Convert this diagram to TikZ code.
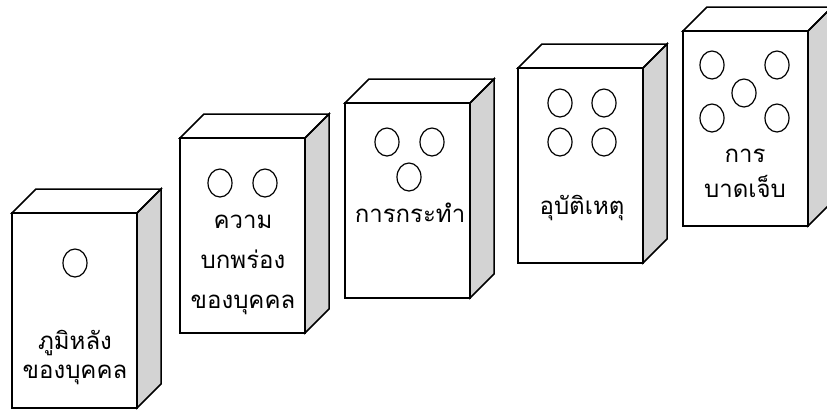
\documentclass[tikz,border=0pt]{standalone}
\usepackage{fontspec}
\newfontfamily\thaifont[Script=Thai]{Loma}
\definecolor{sidegray}{HTML}{D3D3D3}

\tikzset{
  boxline/.style={line width=1.5pt, line join=miter},
  spot/.style={line width=1.2pt},
  boxlabel/.style={font=\thaifont\fontsize{24}{36}\selectfont, align=center, inner sep=0pt}
}

\begin{document}
\begin{tikzpicture}[x=1pt, y=-1pt]

\useasboundingbox (0,0) rectangle (827,410);

% --- Boxes: front face, top face and shaded right side ---
\def\bw{125}  % width of the front face
\def\bh{195}  % height of the front face
\def\bd{24}   % depth of the box
\foreach \name/\bx/\by in {bg/12/213, def/180/138, act/345/103, acc/518/68, inj/683/31}{
  \coordinate (\name) at (\bx,\by);
  \fill[white] (\bx,\by) rectangle ++(\bw,\bh);
  \filldraw[boxline, fill=sidegray] (\bx+\bw,\by) -- ++(\bd,-\bd) -- ++(0,\bh) -- ++(-\bd,\bd) -- cycle;
  \draw[boxline] (\bx,\by) -- ++(\bd,-\bd) -- ++(\bw,0) -- ++(-\bd,\bd) -- cycle;
  \draw[boxline] (\bx,\by) rectangle ++(\bw,\bh);
}

% --- Spots on each box ---
\foreach \cx/\cy in {75/263,
                     220/183, 265/183,
                     387/142, 432/142, 409/177,
                     560/103, 604/103, 560/142, 604/142,
                     712/65, 777/65, 744/93, 712/118, 777/118}{
  \draw[spot] (\cx,\cy) ellipse [x radius=12, y radius=14];
}

% --- Labels ---
\node[boxlabel, font=\thaifont\fontsize{24}{29}\selectfont] (bgtext) at (75,357) {ภูมิหลัง\\ของบุคคล};
\node[boxlabel, font=\thaifont\fontsize{24}{40}\selectfont] (deftext) at (243,265) {ความ\\บกพร่อง\\ของบุคคล};
\node[boxlabel] (acttext) at (410,213) {การกระทำ};
\node[boxlabel] (acctext) at (582,208) {อุบัติเหตุ};
\node[boxlabel, font=\thaifont\fontsize{24}{35}\selectfont] (injtext) at (745,173) {การ\\บาดเจ็บ};

\end{tikzpicture}
\end{document}
